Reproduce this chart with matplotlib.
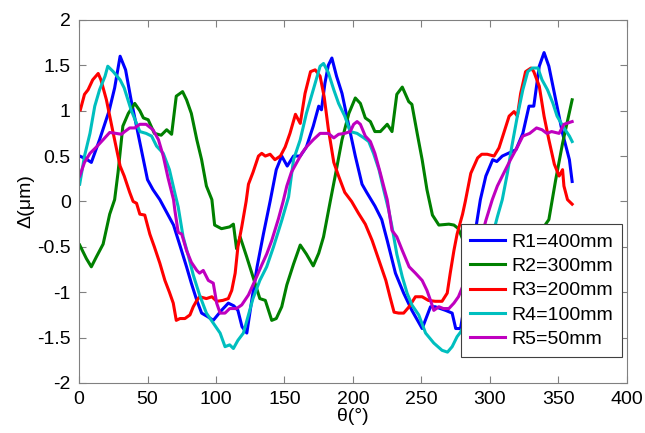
import numpy as np
import matplotlib.pyplot as plt

plt.rcParams.update({'font.size': 14, 'font.family': ['Liberation Sans', 'DejaVu Sans']})

# R1 = 400 mm
x1 = [0.5, 5, 9, 15, 22, 26, 30, 34, 38, 44, 50, 54, 59, 64, 69, 74, 78.5, 82, 86, 89.5, 94, 98, 104, 109,
      113, 116, 119, 122.5, 126, 130, 134.6, 139.5, 144, 148, 152, 156.6, 161.5, 166, 171, 175, 177, 179.5,
      182, 184.6, 188, 192, 197, 201.7, 206.6, 210, 216, 221, 225, 231, 237, 243, 250.5, 256.6, 260, 267.6,
      272.4, 275, 278.5, 282, 287, 293, 297, 302, 305, 309, 319, 324, 328.5, 332, 336, 339.5, 343, 348, 353,
      358, 360]
y1 = [0.5, 0.47, 0.43, 0.68, 1.0, 1.25, 1.6, 1.45, 1.12, 0.68, 0.24, 0.13, 0.02, -0.12, -0.26, -0.5, -0.72,
      -0.9, -1.09, -1.23, -1.27, -1.31, -1.2, -1.12, -1.15, -1.2, -1.38, -1.45, -1.1, -0.72, -0.36, 0.0, 0.35,
      0.5, 0.39, 0.5, 0.5, 0.6, 0.83, 1.05, 1.01, 1.3, 1.5, 1.58, 1.38, 1.19, 0.83, 0.5, 0.19, 0.1, -0.05,
      -0.2, -0.43, -0.79, -1.01, -1.2, -1.4, -1.16, -1.16, -1.2, -1.23, -1.4, -1.4, -1.09, -0.55, 0.02, 0.28,
      0.46, 0.44, 0.5, 0.57, 0.75, 1.05, 1.05, 1.49, 1.64, 1.49, 1.12, 0.75, 0.46, 0.22]

# R2 = 300 mm
x2 = [0.5, 5.4, 9, 12.7, 17.6, 22.4, 26, 28.5, 32, 36, 40.7, 44.4, 47, 50.5, 55, 60, 64, 67.6, 71, 75.6,
      78.5, 82, 86, 89.5, 93, 97, 99, 104, 110, 112.7, 115, 117.6, 122.4, 127, 132, 136, 140.7, 144, 148,
      151.7, 156.6, 161.5, 166, 171, 175, 178.5, 183.4, 187, 192, 197, 201.7, 205.4, 209, 212.7, 216, 220,
      225, 228.5, 232, 236, 240.7, 243, 247, 250.5, 254, 258, 262.7, 270, 273.7, 277, 285, 293, 298, 305,
      315, 325, 333, 340.7, 343, 348, 353, 360]
y2 = [-0.48, -0.63, -0.72, -0.61, -0.47, -0.14, 0.02, 0.32, 0.83, 0.97, 1.08, 1.0, 0.92, 0.9, 0.75, 0.73,
      0.79, 0.74, 1.16, 1.21, 1.12, 0.97, 0.68, 0.46, 0.17, 0.02, -0.26, -0.3, -0.28, -0.25, -0.52, -0.39,
      -0.61, -0.83, -1.07, -1.09, -1.31, -1.29, -1.16, -0.92, -0.69, -0.48, -0.58, -0.71, -0.57, -0.39, 0.0,
      0.28, 0.68, 0.97, 1.14, 1.08, 0.92, 0.88, 0.77, 0.77, 0.85, 0.77, 1.18, 1.26, 1.1, 1.07, 0.74, 0.46,
      0.13, -0.15, -0.26, -0.25, -0.26, -0.3, -0.6, -1.1, -1.3, -1.2, -0.9, -0.7, -0.5, -0.25, -0.2, 0.24,
      0.64, 1.12]

# R3 = 200 mm
x3 = [1, 4, 6.6, 10, 14, 16, 20, 25, 30, 33, 37, 39.5, 42, 44.4, 48, 51.7, 55, 59, 62.7, 66, 68.8, 71,
      73.7, 77.3, 81, 83.4, 86, 88, 93, 97, 100.5, 105, 109, 111.5, 114, 116, 118.8, 122, 123.7, 127, 131,
      133.4, 136, 139.5, 143, 147, 150.5, 154, 158, 161.5, 165, 169, 172.4, 176, 179, 182, 186, 189.5, 194,
      199, 204, 209, 214, 219, 224, 227, 230, 233.4, 237, 241, 245.6, 250.5, 255, 260, 265, 268.8, 271,
      273.7, 276, 280, 282, 286, 291, 294, 298, 303, 306.6, 310, 314, 317.6, 320, 322.4, 326, 330, 332, 336,
      339.5, 343, 347, 350.5, 353, 354, 356.6, 360]
y3 = [1.01, 1.18, 1.23, 1.34, 1.41, 1.34, 1.12, 0.75, 0.39, 0.28, 0.1, 0.0, -0.02, -0.14, -0.15, -0.36,
      -0.5, -0.68, -0.87, -1.0, -1.12, -1.31, -1.29, -1.29, -1.25, -1.16, -1.09, -1.05, -1.07, -1.05, -1.1,
      -1.09, -1.07, -0.98, -0.79, -0.5, -0.28, 0.0, 0.19, 0.32, 0.5, 0.53, 0.5, 0.52, 0.46, 0.5, 0.6, 0.75,
      0.96, 0.86, 1.19, 1.43, 1.45, 1.38, 1.15, 0.8, 0.43, 0.28, 0.1, 0.0, -0.13, -0.25, -0.43, -0.65,
      -0.87, -1.05, -1.22, -1.23, -1.23, -1.16, -1.05, -1.05, -1.09, -1.1, -1.1, -1.01, -0.79, -0.54, -0.36,
      -0.14, 0.0, 0.31, 0.48, 0.52, 0.52, 0.5, 0.59, 0.75, 0.94, 0.99, 0.94, 1.19, 1.43, 1.47, 1.43, 1.27,
      0.94, 0.68, 0.41, 0.28, 0.35, 0.17, 0.02, -0.03]

# R4 = 100 mm
x4 = [0.5, 4, 8, 11.5, 15, 19, 21, 25, 30, 33, 38, 44.4, 49, 53, 56.6, 61.5, 66, 70, 72.4, 76, 80, 83.4,
      88, 93, 98, 103, 106.6, 110, 112.7, 116, 120, 123.7, 127, 132, 137, 142, 148, 153, 156.6, 161.5, 166,
      171, 176, 178.5, 182, 186, 189.5, 194, 198, 203, 208, 211.5, 215, 219, 222.4, 226, 228.5, 232, 236,
      239.5, 243, 248, 253, 259, 265, 269, 272.4, 276, 278.5, 285, 292, 298, 305.4, 309, 312.7, 316, 320,
      324, 327.6, 331, 335, 338, 342, 346, 349, 354, 358, 360]
y4 = [0.19, 0.5, 0.75, 1.05, 1.23, 1.38, 1.49, 1.43, 1.34, 1.25, 1.01, 0.77, 0.75, 0.72, 0.61, 0.53, 0.35,
      0.09, -0.06, -0.39, -0.61, -0.81, -1.03, -1.23, -1.34, -1.45, -1.6, -1.58, -1.62, -1.53, -1.45, -1.25,
      -1.07, -0.87, -0.72, -0.5, -0.21, 0.05, 0.46, 0.68, 0.97, 1.23, 1.49, 1.52, 1.42, 1.23, 1.08, 0.94,
      0.77, 0.75, 0.7, 0.66, 0.53, 0.35, 0.13, -0.09, -0.28, -0.58, -0.83, -1.01, -1.14, -1.25, -1.45, -1.56,
      -1.64, -1.66, -1.6, -1.49, -1.44, -1.25, -0.95, -0.6, -0.17, 0.02, 0.31, 0.61, 0.94, 1.23, 1.43, 1.47,
      1.47, 1.34, 1.23, 1.08, 0.94, 0.81, 0.72, 0.66]

# R5 = 50 mm
x5 = [0.5, 4, 8, 12.7, 17.6, 22.4, 27, 31, 33.4, 37, 40.7, 44.4, 49, 54, 58, 61.5, 65, 69, 70, 72.4, 75,
      78.5, 82, 86, 88, 90.7, 94.4, 98, 100.5, 103, 106.6, 110, 115, 118.8, 123.7, 128.5, 133.4, 137, 140.7,
      145.6, 149, 151.7, 155, 159, 162.7, 166, 171, 176, 182, 186, 189.5, 194, 198, 200.5, 203, 205.4, 209,
      212.7, 216, 220, 222.4, 225, 228.5, 232, 236, 241, 245.6, 250.5, 254, 256.6, 259, 262.7, 266, 270,
      273.7, 277, 280, 285, 291, 297, 301.7, 305.4, 310, 315, 320, 324, 329, 334, 338, 341.5, 345, 350.5,
      354, 358, 360]
y5 = [0.28, 0.43, 0.53, 0.6, 0.68, 0.76, 0.75, 0.74, 0.77, 0.81, 0.81, 0.85, 0.85, 0.79, 0.68, 0.5, 0.26,
      0.02, -0.1, -0.34, -0.36, -0.54, -0.67, -0.76, -0.79, -0.76, -0.87, -0.9, -1.12, -1.23, -1.23, -1.18,
      -1.18, -1.14, -1.03, -0.87, -0.7, -0.58, -0.43, -0.19, 0.0, 0.17, 0.32, 0.43, 0.53, 0.6, 0.68, 0.75,
      0.75, 0.7, 0.74, 0.75, 0.77, 0.85, 0.88, 0.85, 0.72, 0.66, 0.53, 0.31, 0.17, 0.02, -0.32, -0.39, -0.54,
      -0.72, -0.79, -0.87, -0.98, -1.09, -1.2, -1.16, -1.18, -1.18, -1.12, -1.05, -0.94, -0.8, -0.55, -0.21,
      0.02, 0.17, 0.31, 0.46, 0.6, 0.72, 0.75, 0.81, 0.79, 0.75, 0.77, 0.75, 0.85, 0.87, 0.88]

labels = ['R1=400mm', 'R2=300mm', 'R3=200mm', 'R4=100mm', 'R5=50mm']
colors = ['#0000FF', '#008000', '#FF0000', '#00BFBF', '#BF00BF']
series = [(x1, y1), (x2, y2), (x3, y3), (x4, y4), (x5, y5)]

fig = plt.figure(figsize=(6.45, 4.33), dpi=100)
ax = fig.add_axes([0.1225, 0.1155, 0.8495, 0.8385])

for (xs, ys), lab, col in zip(series, labels, colors):
    ax.plot(xs, ys, color=col, lw=2.2, label=lab)

ax.set_xlim(0, 400)
ax.set_ylim(-2, 2)
ax.set_xticks(np.arange(0, 401, 50))
ax.set_yticks(np.arange(-2, 2.01, 0.5))
ax.set_yticklabels(['-2', '-1.5', '-1', '-0.5', '0', '0.5', '1', '1.5', '2'])
ax.tick_params(direction='in', top=True, right=True, length=5, color='#808080', pad=6)
for s in ax.spines.values():
    s.set_color('#808080')
ax.set_xlabel('θ(°)', labelpad=0)
ax.set_ylabel('Δ(μm)', labelpad=2)

leg = ax.legend(loc='lower right', bbox_to_anchor=(0.991, 0.0716), borderaxespad=0,
                fancybox=False, framealpha=1, edgecolor='#404040', handlelength=1.8,
                handletextpad=0.35, labelspacing=0.35, borderpad=0.45)
leg.get_frame().set_linewidth(0.8)

plt.savefig('out.png', dpi=100)
